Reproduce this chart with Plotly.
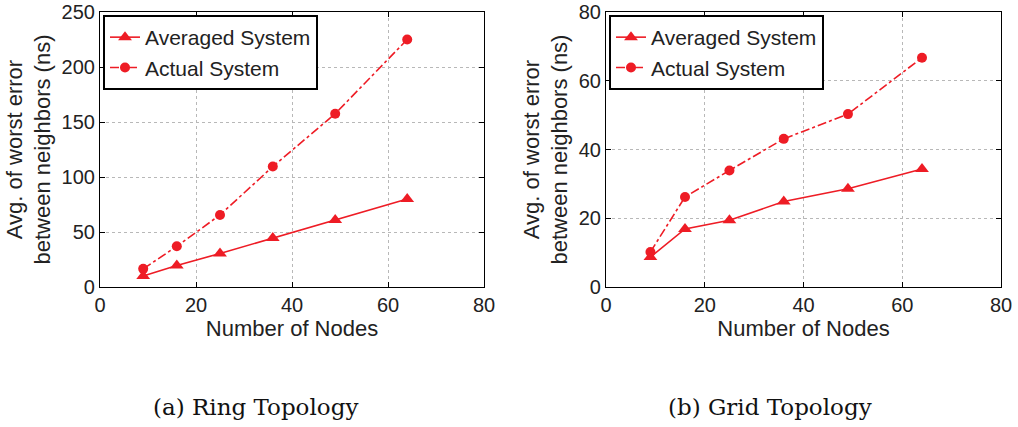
import plotly.graph_objects as go

nodes = [9, 16, 25, 36, 49, 64]
ring_averaged = [10, 19.5, 30.5, 44.5, 61, 80]
ring_actual = [16.5, 37, 65.5, 109.5, 157.5, 225]
grid_averaged = [8.7, 16.9, 19.4, 24.9, 28.6, 34.3]
grid_actual = [10.2, 26.2, 33.9, 43.1, 50.3, 66.7]
x_ticks = [0, 20, 40, 60, 80]
ring_y_ticks = [0, 50, 100, 150, 200, 250]
grid_y_ticks = [0, 20, 40, 60, 80]
captions = ["(a) Ring Topology", "(b) Grid Topology"]

W, H = 1018, 427
RED = "#ee1c25"
FONT = "Liberation Sans, Arial, sans-serif"
TXT = "#222222"

fig = go.Figure()

def add_series(xa, ya, avg, act, legend):
    fig.add_trace(go.Scatter(
        x=nodes, y=avg, mode="lines+markers", name="Averaged System",
        line=dict(color=RED, width=1.6, dash="solid"),
        marker=dict(symbol="triangle-up", size=12, color=RED),
        xaxis=xa, yaxis=ya, legend=legend))
    fig.add_trace(go.Scatter(
        x=nodes, y=act, mode="lines+markers", name="Actual System",
        line=dict(color=RED, width=1.6, dash="dashdot"),
        marker=dict(symbol="circle", size=10, color=RED),
        xaxis=xa, yaxis=ya, legend=legend))

add_series("x", "y", ring_averaged, ring_actual, "legend")
add_series("x2", "y2", grid_averaged, grid_actual, "legend2")

ydom = [1 - 287 / H, 1 - 12 / H]
axis_common = dict(
    showline=True, linecolor="black", linewidth=1.2, mirror="ticks",
    ticks="inside", ticklen=5, tickcolor="black",
    showgrid=True, gridcolor="#b8b8b8", griddash="dot", gridwidth=1,
    zeroline=False, tickfont=dict(family=FONT, size=20, color=TXT),
    automargin=False, ticklabeloverflow="allow",
)
title_font = dict(family=FONT, size=22, color=TXT)
ytitle = "Avg. of worst error<br>between neighbors (ns)"

fig.update_layout(
    width=W, height=H, margin=dict(l=0, r=0, t=0, b=0, autoexpand=False),
    paper_bgcolor="white", plot_bgcolor="white",
    showlegend=True,
    xaxis=dict(domain=[100 / W, 484 / W], range=[0, 80], tickvals=x_ticks,
               anchor="y", title=dict(text="Number of Nodes", font=title_font, standoff=0),
               **axis_common),
    yaxis=dict(domain=ydom, range=[0, 250], tickvals=ring_y_ticks, anchor="x",
               title=dict(text=ytitle, font=title_font, standoff=4),
               **axis_common),
    xaxis2=dict(domain=[606 / W, 1001 / W], range=[0, 80], tickvals=x_ticks,
                anchor="y2", title=dict(text="Number of Nodes", font=title_font, standoff=0),
                **axis_common),
    yaxis2=dict(domain=ydom, range=[0, 80], tickvals=grid_y_ticks, anchor="x2",
                title=dict(text=ytitle, font=title_font, standoff=4),
                **axis_common),
    legend=dict(x=103 / W, y=1 - 15 / H, xanchor="left", yanchor="top",
                bgcolor="white", bordercolor="black", borderwidth=2,
                font=dict(family=FONT, size=21, color=TXT),
                tracegroupgap=0, itemwidth=30),
    legend2=dict(x=609 / W, y=1 - 15 / H, xanchor="left", yanchor="top",
                 bgcolor="white", bordercolor="black", borderwidth=2,
                 font=dict(family=FONT, size=21, color=TXT),
                 tracegroupgap=0, itemwidth=30),
)

for cx, text in zip([255, 770], captions):
    fig.add_annotation(x=cx / W, y=1 - 407 / H, xref="paper", yref="paper",
                       text=text, showarrow=False, xanchor="center", yanchor="middle",
                       font=dict(family="DejaVu Serif, Liberation Serif, serif", size=23, color="#111"))

fig.write_html("out.html")
